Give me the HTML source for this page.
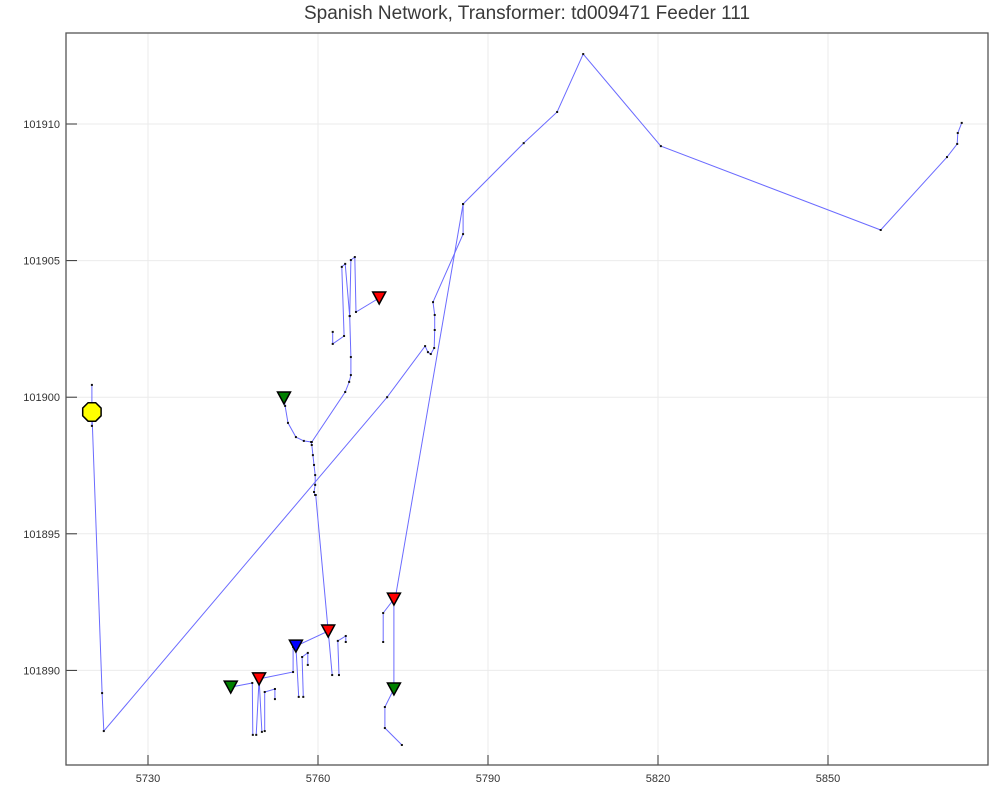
<!DOCTYPE html>
<html><head><meta charset="utf-8"><style>
html,body{margin:0;padding:0;background:#fff;}
svg{display:block;font-family:"Liberation Sans",sans-serif;}
</style></head><body>
<svg id="chart" width="1000" height="800">
<text x="527" y="19" text-anchor="middle" font-size="19" fill="#3a3a3a">Spanish Network, Transformer: td009471 Feeder 111</text>
<g id="grid"></g><g id="lines"></g><g id="dots"></g><g id="marks"></g><g id="axes"></g>
</svg>
<script>
const xTicks=[5730,5760,5790,5820,5850];
const yTicks=[101890,101895,101900,101905,101910];
const lineXs=[
[5720.1,5721.9,5722.2,5772.2,5778.9,5779.4,5779.9,5780.5,5780.6,5780.6,5780.3,5785.6,5785.6,5796.3,5802.2,5806.8,5820.5,5859.3,5871.0,5872.8,5872.9,5873.6],
[5773.6,5785.6],
[5720.1,5720.1],
[5754.0,5754.2,5754.7,5756.1,5757.5,5758.8,5758.9,5759.1,5759.3,5759.5,5759.5,5759.3,5759.5,5759.6,5761.8],
[5758.9,5764.8,5765.5,5765.8,5765.8,5765.6,5764.8,5764.2,5764.6,5762.6,5762.6],
[5765.6,5765.8,5766.5,5766.7,5770.8],
[5744.6,5748.4,5748.5],
[5749.1,5749.6,5750.1],
[5750.6,5750.6,5752.4,5752.4],
[5749.6,5755.6,5755.6,5756.1,5761.8],
[5756.1,5756.6],
[5757.4,5757.2,5758.2,5758.2],
[5761.8,5762.5],
[5763.7,5763.5,5764.9,5764.9],
[5771.5,5771.5,5773.4,5773.4,5771.8,5771.8,5774.8]
];
const lineYs=[
[101899.46,101889.17,101887.78,101900.0,101901.87,101901.65,101901.58,101901.80,101902.46,101903.01,101903.48,101905.97,101907.07,101909.30,101910.44,101912.56,101909.19,101906.12,101908.79,101909.27,101909.67,101910.04],
[101892.61,101907.07],
[101900.45,101898.95],
[101899.97,101899.68,101899.06,101898.54,101898.40,101898.36,101898.25,101897.88,101897.52,101897.15,101896.79,101896.53,101896.42,101896.42,101891.44],
[101898.36,101900.19,101900.56,101900.81,101901.47,101902.97,101904.88,101904.77,101902.24,101901.95,101902.39],
[101902.97,101905.02,101905.13,101903.12,101903.63],
[101889.39,101889.54,101887.64],
[101887.64,101889.69,101887.75],
[101887.78,101889.21,101889.32,101888.95],
[101889.69,101889.94,101890.86,101890.89,101891.44],
[101890.89,101889.03],
[101889.03,101890.49,101890.64,101890.20],
[101891.44,101889.83],
[101889.83,101891.08,101891.26,101891.04],
[101891.04,101892.10,101892.61,101889.32,101888.66,101887.89,101887.27]
];
const markerX=[5744.6,5749.6,5756.1,5761.8,5773.4,5773.4,5754.0,5770.8];
const markerY=[101889.39,101889.69,101890.89,101891.44,101892.61,101889.32,101899.97,101903.63];
const markerColor=["#008000","#ff0000","#0000ff","#ff0000","#ff0000","#008000","#008000","#ff0000"];
const sourceX=[5720.1];
const sourceY=[101899.46];

const L=66,R=988,T=33,B=765;
function sx(v){return 148+(v-5730)*170/30;}
function sy(v){return 124+(101910-v)*136.6/5;}
const NS="http://www.w3.org/2000/svg";
function mk(tag,attrs,parent){const e=document.createElementNS(NS,tag);for(const k in attrs)e.setAttribute(k,attrs[k]);document.getElementById(parent).appendChild(e);return e;}

xTicks.forEach(t=>{
 const g=mk('line',{x1:sx(t),x2:sx(t),y1:T,y2:B,stroke:'#ebebeb','stroke-width':1},'grid');
 
 
 const tk=mk('line',{x1:sx(t),x2:sx(t),y1:B,y2:B-10,stroke:'#333','stroke-width':1},'axes');
 
 
 const lb=mk('text',{x:sx(t),y:B+17,'text-anchor':'middle','font-size':11,fill:'#333'},'axes');
 lb.textContent=t;
 
 
});
yTicks.forEach(t=>{
 const g=mk('line',{x1:L,x2:R,y1:sy(t),y2:sy(t),stroke:'#ebebeb','stroke-width':1},'grid');
 
 
 const tk=mk('line',{x1:L,x2:L+11,y1:sy(t),y2:sy(t),stroke:'#333','stroke-width':1},'axes');
 
 
 const lb=mk('text',{x:L-6,y:sy(t)+4,'text-anchor':'end','font-size':11,fill:'#333'},'axes');
 lb.textContent=t;
 
 
});
const fr=mk('rect',{x:L,y:T,width:R-L,height:B-T,fill:'none',stroke:'#555','stroke-width':1.3},'axes');



lineXs.forEach((xs,i)=>{
 const ys=lineYs[i];
 const pts=xs.map((x,j)=>sx(x).toFixed(1)+','+sy(ys[j]).toFixed(1)).join(' ');
 const pl=mk('polyline',{points:pts,fill:'none',stroke:'#6b6bff','stroke-width':1},'lines');
 
 
 xs.forEach((x,j)=>{
  const d=mk('rect',{x:sx(x)-1,y:sy(ys[j])-1,width:2,height:2,fill:'#111'},'dots');
  
  
 });
});
markerX.forEach((x,i)=>{
 const cx=sx(x),cy=sy(markerY[i]);
 const m=mk('polygon',{points:`${cx-6.5},${cy-6} ${cx+6.5},${cy-6} ${cx},${cy+6}`,fill:markerColor[i],stroke:'#000','stroke-width':1.5},'marks');
 
 
});
sourceX.forEach((x,i)=>{
 const cx=sx(x),cy=sy(sourceY[i]),r=10;let p=[];
 for(let k=0;k<8;k++){const a=Math.PI/8+k*Math.PI/4;p.push((cx+r*Math.cos(a)).toFixed(1)+','+(cy+r*Math.sin(a)).toFixed(1));}
 const s=mk('polygon',{points:p.join(' '),fill:'#ffff00',stroke:'#000','stroke-width':1.5},'marks');
 
 
});
</script>
</body></html>
